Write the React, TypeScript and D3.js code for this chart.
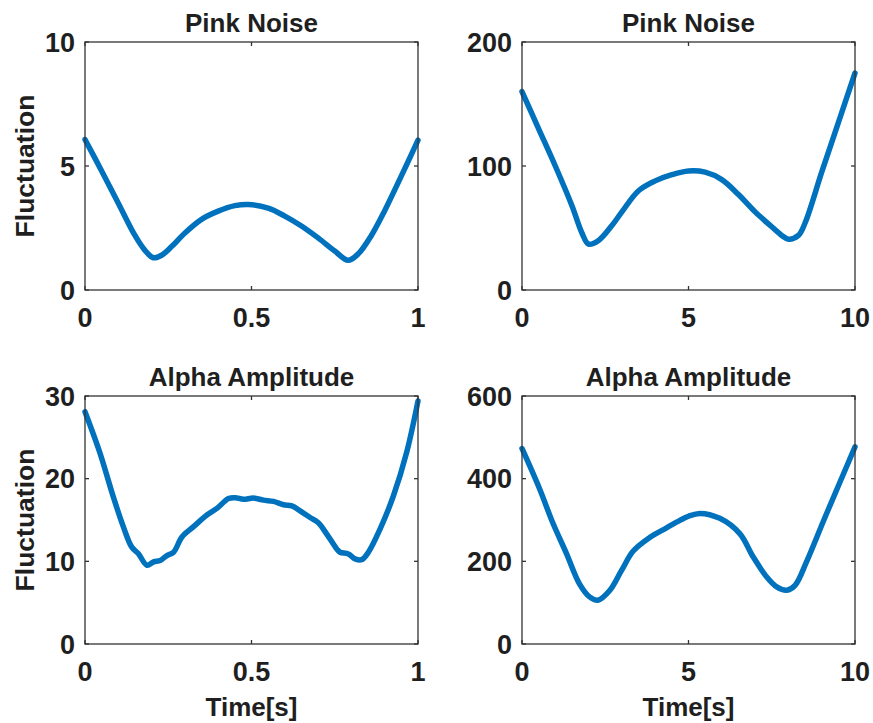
import React from "react";
import * as d3 from "d3";

// top-left: Pink Noise, 0..1 s
const pinkShortTime = [0, 0.05, 0.1, 0.15, 0.18, 0.205, 0.23, 0.26, 0.3, 0.35, 0.4, 0.45, 0.49, 0.55, 0.6, 0.65, 0.7, 0.75, 0.79, 0.82, 0.86, 0.9, 0.95, 1];
const pinkShortValues = [6.07, 4.8, 3.5, 2.2, 1.6, 1.3, 1.4, 1.75, 2.3, 2.85, 3.18, 3.4, 3.45, 3.3, 2.98, 2.58, 2.1, 1.57, 1.2, 1.45, 2.2, 3.2, 4.6, 6.04];

// top-right: Pink Noise, 0..10 s
const pinkLongTime = [0, 0.5, 1, 1.5, 1.8, 2, 2.3, 2.7, 3, 3.5, 4, 4.5, 5, 5.5, 6, 6.5, 7, 7.5, 7.8, 8, 8.3, 8.5, 9, 9.5, 10];
const pinkLongValues = [160, 130, 100, 68, 46, 37, 40, 52, 63, 80, 88, 93, 96, 95, 89, 77, 63, 51, 44, 41, 44, 54, 95, 135, 175];

// bottom-left: Alpha Amplitude, 0..1 s
const alphaShortTime = [0, 0.045, 0.085, 0.115, 0.14, 0.16, 0.186, 0.206, 0.226, 0.246, 0.266, 0.291, 0.326, 0.366, 0.396, 0.431, 0.451, 0.476, 0.506, 0.536, 0.566, 0.596, 0.621, 0.646, 0.676, 0.7, 0.726, 0.756, 0.766, 0.791, 0.811, 0.831, 0.851, 0.886, 0.926, 0.966, 1];
const alphaShortValues = [28.1, 23.1, 17.8, 14.2, 11.75, 10.95, 9.53, 9.93, 10.1, 10.7, 11.1, 12.95, 14.2, 15.6, 16.4, 17.6, 17.7, 17.5, 17.65, 17.4, 17.25, 16.85, 16.7, 16.1, 15.3, 14.7, 13.3, 11.5, 11.1, 10.9, 10.3, 10.2, 11.1, 13.9, 17.9, 23.2, 29.4];

// bottom-right: Alpha Amplitude, 0..10 s
const alphaLongTime = [0, 0.53, 0.93, 1.33, 1.73, 2.03, 2.28, 2.64, 2.99, 3.34, 3.84, 4.34, 4.74, 5.0, 5.34, 5.94, 6.54, 6.94, 7.35, 7.65, 7.95, 8.2, 8.55, 9.05, 9.55, 10];
const alphaLongValues = [473, 375, 292, 220, 145, 114, 106, 130, 178, 225, 258, 281, 299, 309, 316, 304, 267, 211, 162, 138, 130, 142, 200, 297, 392, 477];

const shortTicks = [0, 0.5, 1];
const longTicks = [0, 5, 10];

const panels = [
  { title: "Pink Noise", t: pinkShortTime, v: pinkShortValues, xMax: 1, xTicks: shortTicks, yMax: 10, yTicks: [0, 5, 10], left: 85, top: 42, yLabel: true, xLabel: false },
  { title: "Pink Noise", t: pinkLongTime, v: pinkLongValues, xMax: 10, xTicks: longTicks, yMax: 200, yTicks: [0, 100, 200], left: 522, top: 42, yLabel: false, xLabel: false },
  { title: "Alpha Amplitude", t: alphaShortTime, v: alphaShortValues, xMax: 1, xTicks: shortTicks, yMax: 30, yTicks: [0, 10, 20, 30], left: 85, top: 396, yLabel: true, xLabel: true },
  { title: "Alpha Amplitude", t: alphaLongTime, v: alphaLongValues, xMax: 10, xTicks: longTicks, yMax: 600, yTicks: [0, 200, 400, 600], left: 522, top: 396, yLabel: false, xLabel: true },
];

const W = 333;
const H = 248;
const ink = "#1f1f1f";
const lineColor = "#0072BD";
const font = "'Liberation Sans', Arial, sans-serif";

function Panel({ p }: { p: (typeof panels)[number] }) {
  const x = d3.scaleLinear().domain([0, p.xMax]).range([0, W]);
  const y = d3.scaleLinear().domain([0, p.yMax]).range([H, 0]);
  const pts = p.t.map((t, i) => [t, p.v[i]] as [number, number]);
  const line = d3
    .line<[number, number]>()
    .x((d) => x(d[0]))
    .y((d) => y(d[1]))
    .curve(d3.curveCatmullRom.alpha(0.5));
  const tick = 4;

  return (
    <g transform={`translate(${p.left},${p.top})`} fontFamily={font} fontWeight="bold" fill={ink}>
      <path d={line(pts) || ""} fill="none" stroke={lineColor} strokeWidth={5.5} strokeLinejoin="round" strokeLinecap="round" />
      <rect x={0} y={0} width={W} height={H} fill="none" stroke="#333" strokeWidth={1.3} />
      {p.xTicks.map((t) => (
        <g key={"x" + t}>
          <line x1={x(t)} x2={x(t)} y1={H} y2={H - tick} stroke="#333" strokeWidth={1.3} />
          <line x1={x(t)} x2={x(t)} y1={0} y2={tick} stroke="#333" strokeWidth={1.3} />
          <text x={x(t)} y={H + 37} fontSize={27} textAnchor="middle">{t}</text>
        </g>
      ))}
      {p.yTicks.map((t) => (
        <g key={"y" + t}>
          <line x1={0} x2={tick} y1={y(t)} y2={y(t)} stroke="#333" strokeWidth={1.3} />
          <line x1={W} x2={W - tick} y1={y(t)} y2={y(t)} stroke="#333" strokeWidth={1.3} />
          <text x={-10} y={y(t)} dy="0.36em" fontSize={27} textAnchor="end">{t}</text>
        </g>
      ))}
      <text x={W / 2} y={-10} fontSize={26} textAnchor="middle">{p.title}</text>
      {p.yLabel && (
        <text transform={`translate(${34 - p.left},${H / 2}) rotate(-90)`} fontSize={26.5} textAnchor="middle">Fluctuation</text>
      )}
      {p.xLabel && (
        <text x={W / 2} y={H + 72} fontSize={26} textAnchor="middle">Time[s]</text>
      )}
    </g>
  );
}

export default function App() {
  return (
    <svg width={873} height={723} style={{ position: "absolute", left: 0, top: 0, background: "#fff" }}>
      <rect width={873} height={723} fill="#fff" />
      {panels.map((p, i) => (
        <Panel key={i} p={p} />
      ))}
    </svg>
  );
}
